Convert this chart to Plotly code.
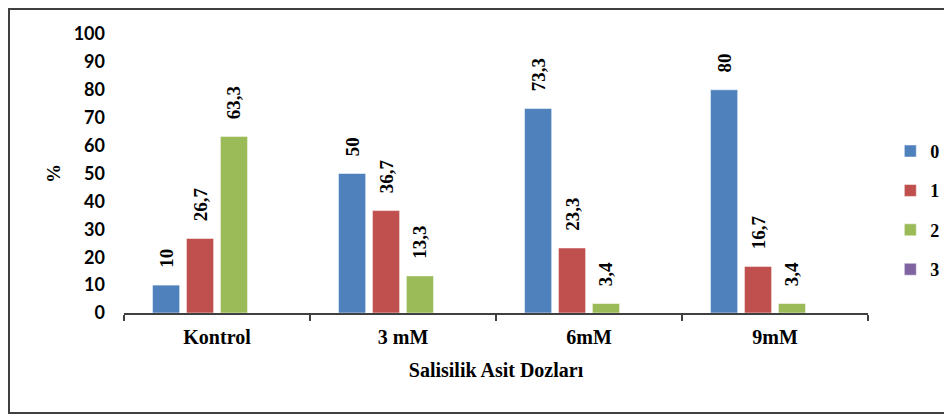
import plotly.graph_objects as go

categories = ["Kontrol", "3 mM", "6mM", "9mM"]
series_names = ["0", "1", "2", "3"]
values_0 = [10, 50, 73.3, 80]
values_1 = [26.7, 36.7, 23.3, 16.7]
values_2 = [63.3, 13.3, 3.4, 3.4]
values_3 = [None, None, None, None]
colors = ["#4F81BD", "#C0504D", "#9BBB59", "#8064A2"]

SERIF = "Liberation Serif"
pad = "\u00a0\u00a0\u00a0"

def fmt(v):
    if v is None:
        return ""
    s = ("%g" % v).replace(".", ",")
    return pad + s

fig = go.Figure()
for name, vals, col in zip(series_names, [values_0, values_1, values_2, values_3], colors):
    fig.add_trace(go.Bar(
        x=categories, y=vals, name=name, legendgroup=name,
        marker=dict(color=col, line=dict(color="rgba(255,255,255,0.5)", width=1)),
        text=[fmt(v) for v in vals], textposition="outside", textangle=-90,
        constraintext="none", cliponaxis=False,
        textfont=dict(family=SERIF, size=19, color="black", weight="bold"),
    ))

# page body has an 8px margin; figure sized to fit the window
W, H = 944, 406
L, T, R, B = 116, 26, 84, 101
pw, ph = W - L - R, H - T - B

fig.update_layout(
    width=W, height=H,
    margin=dict(l=L, r=R, t=T, b=B, autoexpand=False),
    paper_bgcolor="white", plot_bgcolor="white",
    barmode="group", bargap=0.27, bargroupgap=0.2,
    showlegend=True,
    legend=dict(x=1.03, xanchor="left", y=0.368, yanchor="middle",
                font=dict(family=SERIF, size=18, color="black", weight="bold"),
                tracegroupgap=13, bgcolor="rgba(0,0,0,0)"),
    xaxis=dict(
        showline=True, linecolor="#404040", linewidth=1.5,
        ticks="outside", ticklen=6, tickcolor="#404040", tickwidth=1.5,
        tickson="boundaries", ticklabelstandoff=5,
        tickfont=dict(family=SERIF, size=20, color="black", weight="bold"),
        title=dict(text="Salisilik Asit Dozları", standoff=16,
                   font=dict(family=SERIF, size=20, color="black", weight="bold")),
    ),
    yaxis=dict(
        range=[0, 100], dtick=10, showgrid=False, showline=False, zeroline=False,
        ticks="", ticklabelstandoff=18,
        tickfont=dict(family="Lato", size=18, color="black", weight="bold"),
        title=dict(text="%", standoff=8,
                   font=dict(family=SERIF, size=19, color="black", weight="bold")),
    ),
    shapes=[dict(type="rect", xref="paper", yref="paper",
                 x0=(1 - L) / pw, x1=(W + 20 - L) / pw,
                 y0=-(B - 1) / ph, y1=1 + (T - 1) / ph,
                 line=dict(color="#404040", width=2), fillcolor="rgba(0,0,0,0)",
                 layer="below")],
)

fig.write_html("out.html")
